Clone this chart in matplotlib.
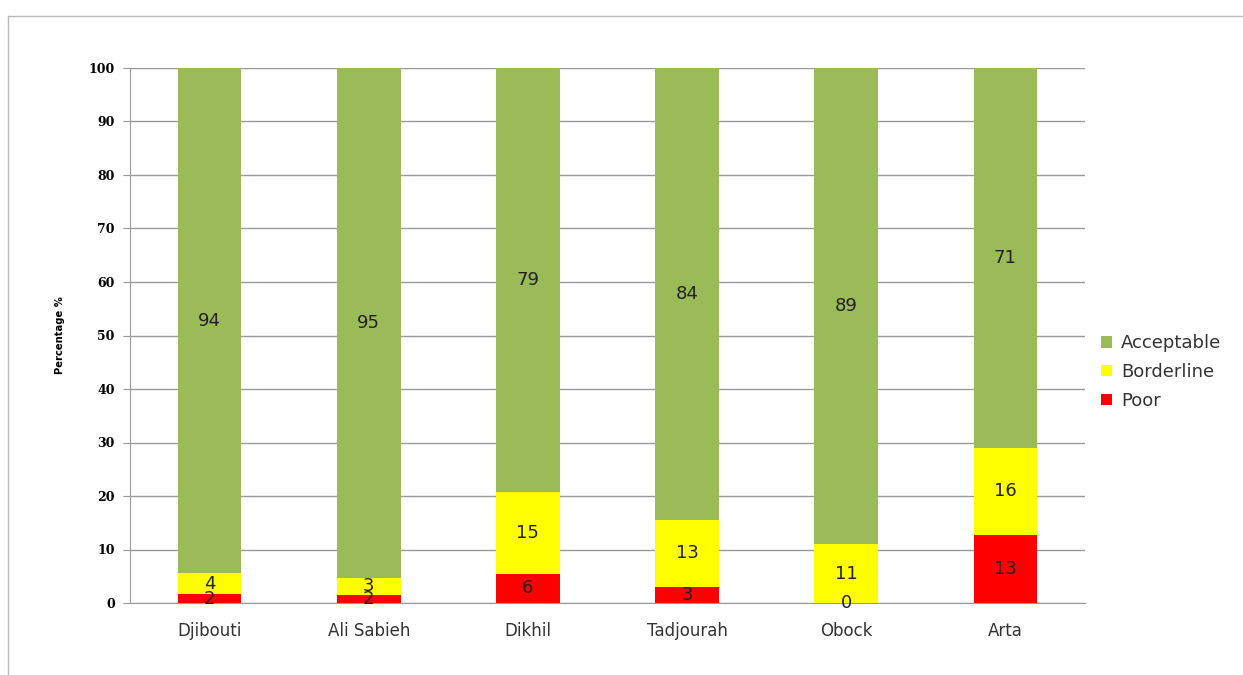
import matplotlib.pyplot as plt
from matplotlib.lines import Line2D
import numpy as np

districts = ['Djibouti', 'Ali Sabieh', 'Dikhil', 'Tadjourah', 'Obock', 'Arta']
poor = [1.6, 1.5, 5.5, 3.0, 0.0, 12.7]
borderline = [4.0, 3.2, 15.2, 12.6, 11.0, 16.3]
acceptable = [94.4, 95.3, 79.3, 84.4, 89.0, 71.0]

colors = {'Poor': '#ff0000', 'Borderline': '#ffff00', 'Acceptable': '#9bbb59'}

fig = plt.figure(figsize=(12.43, 6.75), dpi=100)
ax = fig.add_axes([130 / 1243, 1 - 603 / 675, 955 / 1243, 535 / 675])

x = np.arange(len(districts))
w = 0.4
b1 = ax.bar(x, poor, w, color=colors['Poor'], label='Poor', zorder=3)
b2 = ax.bar(x, borderline, w, bottom=poor, color=colors['Borderline'], label='Borderline', zorder=3)
b3 = ax.bar(x, acceptable, w, bottom=np.add(poor, borderline), color=colors['Acceptable'],
            label='Acceptable', zorder=3)

for bars, vals in [(b1, poor), (b2, borderline), (b3, acceptable)]:
    ax.bar_label(bars, labels=[f'{v:.0f}' for v in vals], label_type='center',
                 fontsize=13, color='#222222', zorder=4)

ax.set_xlim(-0.5, len(districts) - 0.5)
ax.set_ylim(0, 100)
ax.set_yticks(range(0, 101, 10))
ax.set_xticks(x)
ax.set_xticklabels(districts, fontsize=12, color='#333333')
ax.tick_params(axis='x', length=0, pad=14)
ax.tick_params(axis='y', length=5, color='#999999', pad=6)
for lab in ax.get_yticklabels():
    lab.set_fontfamily('DejaVu Serif')
    lab.set_fontweight('bold')
    lab.set_fontsize(9)
ax.yaxis.grid(True, color='#9a9a9a', linewidth=1, zorder=0)
ax.set_axisbelow(True)
for s in ['top', 'right']:
    ax.spines[s].set_visible(False)
for s in ['left', 'bottom']:
    ax.spines[s].set_color('#9a9a9a')

fig.text(60 / 1243, 1 - 335 / 675, 'Percentage %', rotation=90, ha='center', va='center',
         fontsize=8, fontweight='bold', fontstretch='condensed')

handles = [b3, b2, b1]
fig.legend(handles, ['Acceptable', 'Borderline', 'Poor'], loc='upper left',
           bbox_to_anchor=(1085 / 1243, 1 - 318 / 675), frameon=False, fontsize=13,
           handlelength=0.6, handleheight=0.6, handletextpad=0.5, labelspacing=0.6,
           labelcolor='#333333')

# outer chart frame
fig.add_artist(Line2D([8 / 1243, 1], [1 - 16 / 675] * 2, color='#bbbbbb', lw=1,
                      transform=fig.transFigure))
fig.add_artist(Line2D([8 / 1243] * 2, [0, 1 - 16 / 675], color='#bbbbbb', lw=1,
                      transform=fig.transFigure))

fig.savefig('out.png', dpi=100)
